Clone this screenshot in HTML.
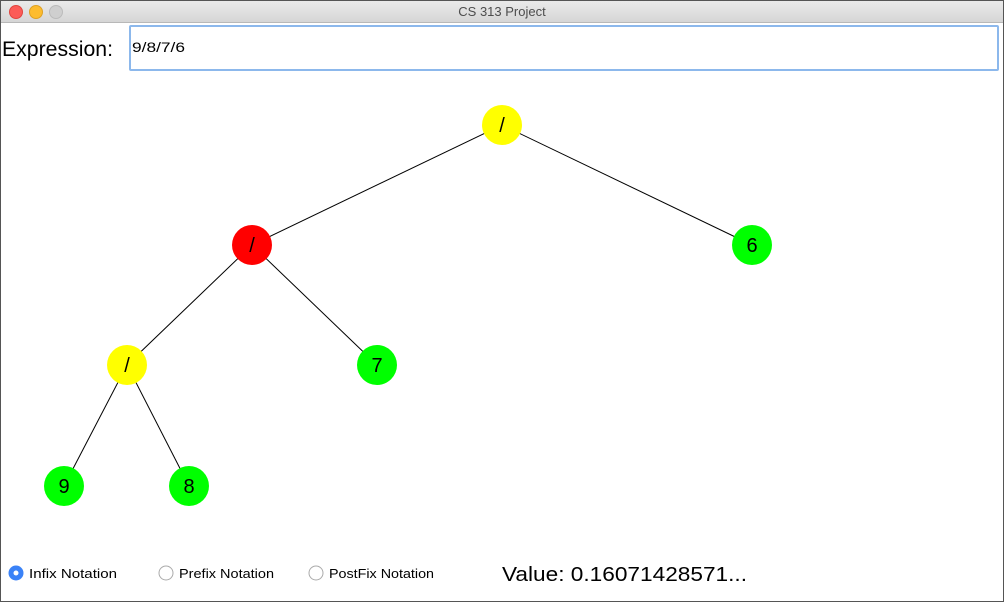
<!DOCTYPE html>
<html><head><style>
body{margin:0;width:1004px;height:602px;overflow:hidden;background:#fff;font-family:"Liberation Sans",sans-serif;position:relative}
.tb{position:absolute;left:0;top:0;width:1004px;height:22px;background:linear-gradient(#ebebeb,#d6d6d6);border-bottom:1px solid #b8b8b8;text-align:center;font-size:13px;line-height:23px;color:#4d4d4d}
.d{position:absolute;top:5px;width:12px;height:12px;border-radius:50%}
</style></head><body>
<div class="tb">CS 313 Project</div>
<div class="d" style="left:9px;background:#fc5b57;border:0.5px solid #e0443e"></div>
<div class="d" style="left:29px;background:#fdbc2e;border:0.5px solid #dea123"></div>
<div class="d" style="left:49px;background:#cfcfcf;border:0.5px solid #bbb"></div>
<div style="position:absolute;left:129px;top:25px;width:866px;height:42px;border:2px solid #8cb8ec;border-radius:2px;background:#fff"></div>
<svg style="position:absolute;left:0;top:0" width="1004" height="602">
<text x="2" y="56" font-family="Liberation Sans,sans-serif" font-size="21" textLength="111" lengthAdjust="spacingAndGlyphs">Expression:</text>
<text x="132" y="52" font-family="Liberation Sans,sans-serif" font-size="14" textLength="53" lengthAdjust="spacingAndGlyphs">9/8/7/6</text>
<g stroke="#000" stroke-width="1">
<line x1="502" y1="125" x2="252" y2="245"/><line x1="502" y1="125" x2="752" y2="245"/>
<line x1="252" y1="245" x2="127" y2="365"/><line x1="252" y1="245" x2="377" y2="365"/>
<line x1="127" y1="365" x2="64" y2="486"/><line x1="127" y1="365" x2="189" y2="486"/>
</g>
<g font-family="Liberation Sans,sans-serif" font-size="20" text-anchor="middle">
<circle cx="502" cy="125" r="20" fill="#ffff00"/><text x="502" y="132">/</text>
<circle cx="252" cy="245" r="20" fill="#ff0000"/><text x="252" y="252">/</text>
<circle cx="752" cy="245" r="20" fill="#00ff00"/><text x="752" y="252">6</text>
<circle cx="127" cy="365" r="20" fill="#ffff00"/><text x="127" y="372">/</text>
<circle cx="377" cy="365" r="20" fill="#00ff00"/><text x="377" y="372">7</text>
<circle cx="64" cy="486" r="20" fill="#00ff00"/><text x="64" y="493">9</text>
<circle cx="189" cy="486" r="20" fill="#00ff00"/><text x="189" y="493">8</text>
</g>
<circle cx="16" cy="573" r="7.5" fill="#3a82f7"/><circle cx="16" cy="573" r="2.5" fill="#fff"/>
<circle cx="166" cy="573" r="7" fill="#fff" stroke="#aaa"/>
<circle cx="316" cy="573" r="7" fill="#fff" stroke="#aaa"/>
<g font-family="Liberation Sans,sans-serif" font-size="13">
<text x="29" y="578" textLength="88" lengthAdjust="spacingAndGlyphs">Infix Notation</text>
<text x="179" y="578" textLength="95" lengthAdjust="spacingAndGlyphs">Prefix Notation</text>
<text x="329" y="578" textLength="105" lengthAdjust="spacingAndGlyphs">PostFix Notation</text>
</g>
<text x="502" y="581" font-family="Liberation Sans,sans-serif" font-size="20" textLength="245" lengthAdjust="spacingAndGlyphs">Value: 0.16071428571...</text>
<rect x="0.5" y="0.5" width="1003" height="601" fill="none" stroke="#555"/>
</svg>
</body></html>
